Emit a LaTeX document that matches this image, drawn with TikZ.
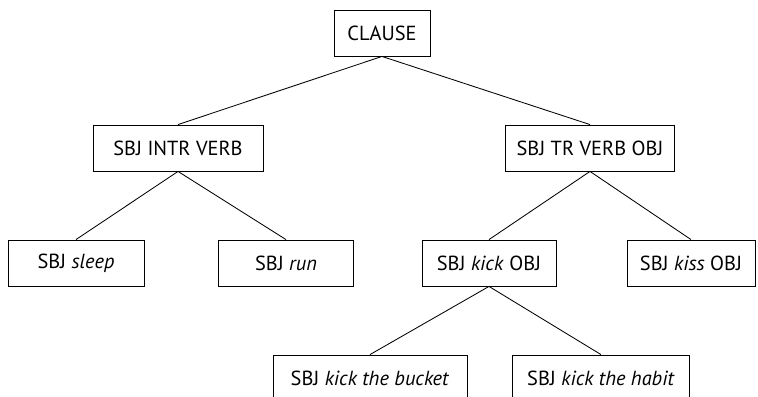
\documentclass[tikz,border=0pt]{standalone}
\usepackage{fontspec}
\setmainfont{PT Sans}
\begin{document}
\begin{tikzpicture}[x=0.025cm,y=-0.025cm,
    box/.style={draw,line width=0.6pt,minimum height=1.15cm,inner sep=0pt,font=\fontsize{14.5}{17}\selectfont}]
  \useasboundingbox (0,0) rectangle (758,396);
  \node[box,minimum width=2.4cm] (clause) at (382,33) {CLAUSE};
  \node[box,minimum width=4.25cm] (intr) at (178,148) {SBJ INTR VERB};
  \node[box,minimum width=4.22cm] (tr) at (590,148) {SBJ TR VERB OBJ};
  \node[box,minimum width=3.4cm] (sleep) at (76,263) {SBJ \textit{sleep}};
  \node[box,minimum width=3.37cm] (run) at (286,263) {SBJ \textit{run}};
  \node[box,minimum width=3.35cm] (kick) at (489,263) {SBJ \textit{kick} OBJ};
  \node[box,minimum width=3.2cm] (kiss) at (691,263) {SBJ \textit{kiss} OBJ};
  \node[box,minimum width=4.85cm] (bucket) at (370,378) {SBJ \textit{kick the bucket}};
  \node[box,minimum width=4.42cm] (habit) at (601,378) {SBJ \textit{kick the habit}};
  \foreach \a/\b in {clause/intr,clause/tr,intr/sleep,intr/run,tr/kick,tr/kiss,kick/bucket,kick/habit}
    \draw[line width=0.6pt] (\a.south) -- (\b.north);
\end{tikzpicture}
\end{document}
